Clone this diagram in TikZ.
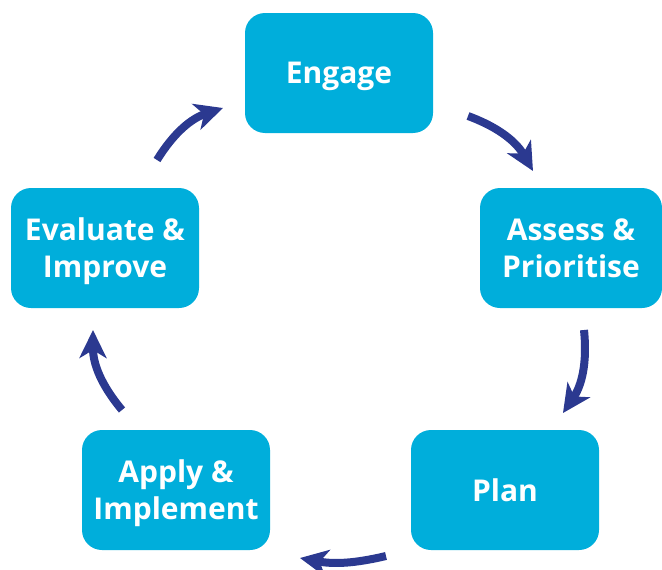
\documentclass[tikz,border=0pt]{standalone}
\usepackage{fontspec}
\setmainfont{Open Sans}
\usetikzlibrary{arrows.meta}

\definecolor{boxblue}{RGB}{0,174,219}
\definecolor{arrowblue}{RGB}{43,57,144}

\begin{document}
\begin{tikzpicture}[x=1pt,y=-1pt,>={Stealth[length=28pt,width=27pt,inset=8pt]},
        stage/.style={fill=boxblue,rounded corners=20pt,minimum width=188pt,minimum height=120pt,
            text=white,text depth=-3pt,font=\fontsize{30}{37}\selectfont\bfseries,align=center},
        flow/.style={->,draw=arrowblue,line width=8pt,bend left=20}]
        \useasboundingbox (0,0) rectangle (662,570);

        % the five stages
        \node[stage] (engage) at (339,73) {Engage};
        \node[stage,minimum width=182pt] (assess) at (571,248) {Assess \&\\Prioritise};
        \node[stage] (plan) at (505,490) {Plan};
        \node[stage] (apply) at (176,490) {Apply \&\\Implement};
        \node[stage] (evaluate) at (105,248) {Evaluate \&\\Improve};

        % ends of the arrows between the stages
        \coordinate (E-out) at (468,116);
        \coordinate (A-in) at (533,171);
        \coordinate (A-out) at (584,330);
        \coordinate (P-in) at (563,413);
        \coordinate (P-out) at (386,556);
        \coordinate (I-in) at (300,558);
        \coordinate (I-out) at (122,410);
        \coordinate (V-in) at (93,330);
        \coordinate (V-out) at (157,160);
        \coordinate (E-in) at (223,108);

        \draw[flow] (E-out) to (A-in);
        \draw[flow] (A-out) to (P-in);
        \draw[flow,bend left=12] (P-out) to (I-in);
        \draw[flow] (I-out) to (V-in);
        \draw[flow] (V-out) to (E-in);
\end{tikzpicture}
\end{document}
